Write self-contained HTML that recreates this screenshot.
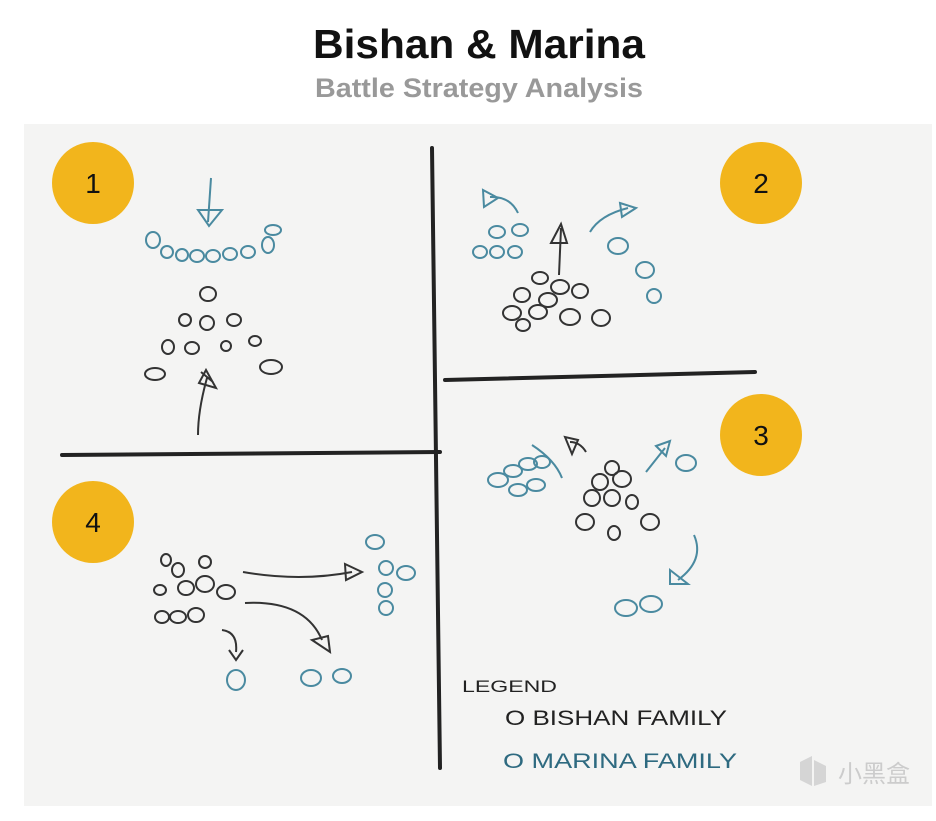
<!DOCTYPE html>
<html><head><meta charset="utf-8"><style>
body{margin:0;background:#fff;width:936px;height:816px;overflow:hidden;font-family:"Liberation Sans",sans-serif}
</style></head><body>
<svg width="936" height="816" xmlns="http://www.w3.org/2000/svg">
<text x="479" y="58" text-anchor="middle" font-family="Liberation Sans" font-weight="bold" font-size="41" fill="#111" textLength="332" lengthAdjust="spacingAndGlyphs">Bishan &amp; Marina</text>
<text x="479" y="97" text-anchor="middle" font-family="Liberation Sans" font-weight="bold" font-size="27" fill="#999" textLength="328" lengthAdjust="spacingAndGlyphs">Battle Strategy Analysis</text>
<rect x="24" y="124" width="908" height="682" fill="#f4f4f3"/>
<g stroke="#222" stroke-width="4" stroke-linecap="round" fill="none">
<path d="M432 148 L440 768"/>
<path d="M62 455 L440 452"/>
<path d="M445 380 L755 372"/>
</g>
<g fill="#f2b51c"><circle cx="93" cy="183" r="41"/><circle cx="761" cy="183" r="41"/><circle cx="761" cy="435" r="41"/><circle cx="93" cy="522" r="41"/></g>
<g font-family="Liberation Sans" font-size="28" fill="#111" text-anchor="middle">
<text x="93" y="193">1</text><text x="761" y="193">2</text><text x="761" y="445">3</text><text x="93" y="532">4</text></g>
<g fill="none" stroke="#4a8aa0" stroke-width="2">
<ellipse cx="153" cy="240" rx="7" ry="8"/><ellipse cx="167" cy="252" rx="6" ry="6"/><ellipse cx="182" cy="255" rx="6" ry="6"/><ellipse cx="197" cy="256" rx="7" ry="6"/><ellipse cx="213" cy="256" rx="7" ry="6"/><ellipse cx="230" cy="254" rx="7" ry="6"/><ellipse cx="248" cy="252" rx="7" ry="6"/><ellipse cx="268" cy="245" rx="6" ry="8"/><ellipse cx="273" cy="230" rx="8" ry="5"/>
<path d="M211 178 L208 222 M198 210 L222 210 L209 226 Z"/>
<ellipse cx="497" cy="232" rx="8" ry="6"/><ellipse cx="520" cy="230" rx="8" ry="6"/><ellipse cx="480" cy="252" rx="7" ry="6"/><ellipse cx="497" cy="252" rx="7" ry="6"/><ellipse cx="515" cy="252" rx="7" ry="6"/><ellipse cx="618" cy="246" rx="10" ry="8"/><ellipse cx="645" cy="270" rx="9" ry="8"/><ellipse cx="654" cy="296" rx="7" ry="7"/>
<path d="M518 213 Q510 196 490 197 M483 190 L498 198 L484 207 Z"/>
<path d="M590 232 Q600 215 628 208 M620 203 L636 208 L622 217 Z"/>
<ellipse cx="498" cy="480" rx="10" ry="7"/><ellipse cx="513" cy="471" rx="9" ry="6"/><ellipse cx="528" cy="464" rx="9" ry="6"/><ellipse cx="518" cy="490" rx="9" ry="6"/><ellipse cx="536" cy="485" rx="9" ry="6"/><ellipse cx="542" cy="462" rx="8" ry="6"/><ellipse cx="686" cy="463" rx="10" ry="8"/><ellipse cx="626" cy="608" rx="11" ry="8"/><ellipse cx="651" cy="604" rx="11" ry="8"/>
<path d="M532 445 Q555 460 562 478"/>
<path d="M646 472 L665 448 M656 446 L670 441 L666 456 Z"/>
<path d="M694 535 Q705 560 678 580 M670 570 L670 584 L688 584 Z"/>
<ellipse cx="375" cy="542" rx="9" ry="7"/><ellipse cx="386" cy="568" rx="7" ry="7"/><ellipse cx="406" cy="573" rx="9" ry="7"/><ellipse cx="385" cy="590" rx="7" ry="7"/><ellipse cx="386" cy="608" rx="7" ry="7"/><ellipse cx="236" cy="680" rx="9" ry="10"/><ellipse cx="311" cy="678" rx="10" ry="8"/><ellipse cx="342" cy="676" rx="9" ry="7"/>
</g>
<g fill="none" stroke="#333" stroke-width="2">
<ellipse cx="208" cy="294" rx="8" ry="7"/><ellipse cx="185" cy="320" rx="6" ry="6"/><ellipse cx="207" cy="323" rx="7" ry="7"/><ellipse cx="234" cy="320" rx="7" ry="6"/><ellipse cx="168" cy="347" rx="6" ry="7"/><ellipse cx="192" cy="348" rx="7" ry="6"/><ellipse cx="226" cy="346" rx="5" ry="5"/><ellipse cx="255" cy="341" rx="6" ry="5"/><ellipse cx="155" cy="374" rx="10" ry="6"/><ellipse cx="271" cy="367" rx="11" ry="7"/>
<path d="M198 435 Q198 410 207 378 M199 383 L216 388 L206 370 Z M201 372 L213 382"/>
<ellipse cx="540" cy="278" rx="8" ry="6"/><ellipse cx="560" cy="287" rx="9" ry="7"/><ellipse cx="580" cy="291" rx="8" ry="7"/><ellipse cx="522" cy="295" rx="8" ry="7"/><ellipse cx="548" cy="300" rx="9" ry="7"/><ellipse cx="512" cy="313" rx="9" ry="7"/><ellipse cx="538" cy="312" rx="9" ry="7"/><ellipse cx="570" cy="317" rx="10" ry="8"/><ellipse cx="601" cy="318" rx="9" ry="8"/><ellipse cx="523" cy="325" rx="7" ry="6"/>
<path d="M559 275 L561 228 M551 243 L561 224 L567 243 Z"/>
<path d="M586 452 Q580 442 570 442 M565 437 L572 454 L578 440 Z"/>
<ellipse cx="612" cy="468" rx="7" ry="7"/><ellipse cx="600" cy="482" rx="8" ry="8"/><ellipse cx="622" cy="479" rx="9" ry="8"/><ellipse cx="592" cy="498" rx="8" ry="8"/><ellipse cx="612" cy="498" rx="8" ry="8"/><ellipse cx="632" cy="502" rx="6" ry="7"/><ellipse cx="585" cy="522" rx="9" ry="8"/><ellipse cx="614" cy="533" rx="6" ry="7"/><ellipse cx="650" cy="522" rx="9" ry="8"/>
<ellipse cx="178" cy="570" rx="6" ry="7"/><ellipse cx="205" cy="562" rx="6" ry="6"/><ellipse cx="160" cy="590" rx="6" ry="5"/><ellipse cx="186" cy="588" rx="8" ry="7"/><ellipse cx="205" cy="584" rx="9" ry="8"/><ellipse cx="226" cy="592" rx="9" ry="7"/><ellipse cx="162" cy="617" rx="7" ry="6"/><ellipse cx="178" cy="617" rx="8" ry="6"/><ellipse cx="196" cy="615" rx="8" ry="7"/><ellipse cx="166" cy="560" rx="5" ry="6"/>
<path d="M243 572 Q300 582 352 572 M345 564 L362 572 L346 580 Z"/>
<path d="M245 603 Q305 600 322 640 M312 640 L330 652 L328 636 Z"/>
<path d="M222 630 Q238 632 236 652 M229 650 L236 660 L243 650"/>
</g>
<g font-family="Liberation Sans">
<text x="462" y="692" fill="#222" font-size="17" textLength="95" lengthAdjust="spacingAndGlyphs">LEGEND</text>
<text x="505" y="725" fill="#222" font-size="21" textLength="222" lengthAdjust="spacingAndGlyphs">O BISHAN FAMILY</text>
<text x="503" y="768" fill="#2e6a80" font-size="21" textLength="234" lengthAdjust="spacingAndGlyphs">O MARINA FAMILY</text>
</g>
<text x="838" y="782" font-family="Noto Sans CJK SC,sans-serif" font-size="24" fill="#ccc">小黑盒</text>
<path d="M800 762 L812 756 L812 786 L800 780 Z M814 760 L826 766 L826 782 L814 786 Z" fill="#d5d5d5"/>
</svg>
</body></html>
